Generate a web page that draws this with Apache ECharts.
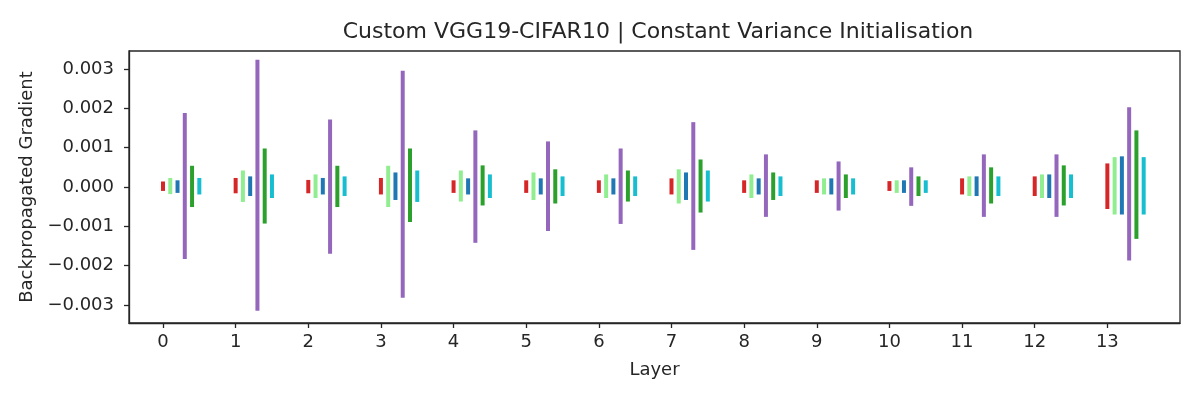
<!DOCTYPE html>
<html>
<head>
<meta charset="utf-8">
<script src="https://cdn.jsdelivr.net/npm/echarts@6/dist/echarts.min.js"></script>
<style>
  html, body { margin: 0; padding: 0; background: #fff; }
  #chart { width: 1200px; height: 400px; }
</style>
</head>
<body>
<div id="chart"></div>
<script>
// layers and per-series x offset (fraction of a layer)
var layers = [0, 1, 2, 3, 4, 5, 6, 7, 8, 9, 10, 11, 12, 13];
var yTicks = [-0.003, -0.002, -0.001, 0, 0.001, 0.002, 0.003];

// upper / lower ends of each gradient bar, read per layer
var redHi    = [0.00014, 0.00023, 0.00018, 0.00023, 0.00017, 0.00017, 0.00017, 0.00022, 0.00017, 0.00017, 0.00015, 0.00022, 0.00027, 0.0006];
var redLo    = [-0.0001, -0.00016, -0.00016, -0.00019, -0.00015, -0.00015, -0.00015, -0.00019, -0.00015, -0.00015, -0.0001, -0.00019, -0.00023, -0.00056];
var lgreenHi = [0.00023, 0.00042, 0.00032, 0.00054, 0.00042, 0.00037, 0.00032, 0.00045, 0.00032, 0.00022, 0.00017, 0.00027, 0.00032, 0.00076];
var lgreenLo = [-0.00018, -0.00038, -0.00028, -0.00051, -0.00037, -0.00033, -0.00028, -0.00042, -0.00028, -0.00019, -0.00015, -0.00023, -0.00028, -0.0007];
var blueHi   = [0.00017, 0.00027, 0.00023, 0.00037, 0.00022, 0.00022, 0.00022, 0.00037, 0.00022, 0.00022, 0.00017, 0.00027, 0.00032, 0.00078];
var blueLo   = [-0.00015, -0.00023, -0.00019, -0.00033, -0.00019, -0.00019, -0.00019, -0.00033, -0.00019, -0.00019, -0.00015, -0.00023, -0.00028, -0.0007];
var purpleHi = [0.00188, 0.00324, 0.00172, 0.00296, 0.00144, 0.00116, 0.00098, 0.00165, 0.00083, 0.00065, 0.0005, 0.00083, 0.00083, 0.00203];
var purpleLo = [-0.00183, -0.00315, -0.0017, -0.00282, -0.00142, -0.00112, -0.00094, -0.0016, -0.00076, -0.0006, -0.00048, -0.00076, -0.00076, -0.00187];
var greenHi  = [0.00054, 0.00098, 0.00054, 0.00098, 0.00055, 0.00045, 0.00042, 0.0007, 0.00037, 0.00032, 0.00027, 0.0005, 0.00055, 0.00144];
var greenLo  = [-0.00051, -0.00093, -0.00051, -0.00089, -0.00047, -0.00042, -0.00037, -0.00065, -0.00033, -0.00028, -0.00023, -0.00042, -0.00047, -0.00132];
var cyanHi   = [0.00023, 0.00032, 0.00027, 0.00042, 0.00032, 0.00027, 0.00027, 0.00042, 0.00027, 0.00022, 0.00017, 0.00027, 0.00032, 0.00076];
var cyanLo   = [-0.00019, -0.00028, -0.00023, -0.00038, -0.00028, -0.00023, -0.00023, -0.00037, -0.00023, -0.00019, -0.00015, -0.00023, -0.00028, -0.0007];

var groups = [
    { color: '#d62728', offset: 0.0, hi: redHi,    lo: redLo },
    { color: '#90ee90', offset: 0.1, hi: lgreenHi, lo: lgreenLo },
    { color: '#1f77b4', offset: 0.2, hi: blueHi,   lo: blueLo },
    { color: '#9467bd', offset: 0.3, hi: purpleHi, lo: purpleLo },
    { color: '#2ca02c', offset: 0.4, hi: greenHi,  lo: greenLo },
    { color: '#17becf', offset: 0.5, hi: cyanHi,   lo: cyanLo }
];

var ink = '#262626';
var font = 'DejaVu Sans';

function makeSeries(g) {
    var data = layers.map(function (l, i) {
        return [l + g.offset, g.lo[i], g.hi[i]];
    });
    return {
        type: 'custom',
        data: data,
        encode: { x: 0, y: [1, 2] },
        renderItem: function (params, api) {
            var top = api.coord([api.value(0), api.value(2)]);
            var bot = api.coord([api.value(0), api.value(1)]);
            return {
                type: 'rect',
                shape: { x: top[0] - 2, y: top[1], width: 4, height: bot[1] - top[1] },
                style: { fill: g.color }
            };
        },
        silent: true,
        animation: false
    };
}

var myChart = echarts.init(document.getElementById('chart'));

myChart.setOption({
    backgroundColor: '#fff',
    animation: false,
    title: {
        text: 'Custom VGG19-CIFAR10 | Constant Variance Initialisation',
        left: 653,
        textAlign: 'center',
        top: 16,
        textStyle: { fontFamily: font, fontSize: 22, fontWeight: 'normal', color: ink }
    },
    grid: {
        left: 129, right: 20, top: 51, bottom: 77,
        show: true, borderColor: ink, borderWidth: 1.3, backgroundColor: '#fff'
    },
    xAxis: {
        type: 'value',
        min: -0.468,
        max: 14.0,
        name: 'Layer',
        nameLocation: 'middle',
        nameGap: 38,
        nameTextStyle: { fontFamily: font, fontSize: 18, color: ink },
        axisLine: { show: true, onZero: false, lineStyle: { color: ink, width: 1.3 } },
        axisTick: { show: true, length: 5, inside: false, customValues: layers, lineStyle: { color: ink, width: 1.3 } },
        axisLabel: {
            customValues: layers,
            margin: 10,
            fontFamily: font, fontSize: 18, color: ink,
            formatter: function (v) { return String(Math.round(v)); }
        },
        splitLine: { show: false }
    },
    yAxis: {
        type: 'value',
        min: -0.00346,
        max: 0.00346,
        name: 'Backpropagated Gradient',
        nameLocation: 'middle',
        nameGap: 93,
        nameTextStyle: { fontFamily: font, fontSize: 18, color: ink },
        axisLine: { show: true, onZero: false, lineStyle: { color: ink, width: 1.3 } },
        axisTick: { show: true, length: 5, inside: false, customValues: yTicks, lineStyle: { color: ink, width: 1.3 } },
        axisLabel: {
            customValues: yTicks,
            margin: 15,
            fontFamily: font, fontSize: 18, color: ink,
            formatter: function (v) {
                var s = Math.abs(v).toFixed(3);
                return v < -1e-9 ? '\u2212' + s : s;
            }
        },
        splitLine: { show: false }
    },
    series: groups.map(makeSeries)
});
</script>
</body>
</html>
